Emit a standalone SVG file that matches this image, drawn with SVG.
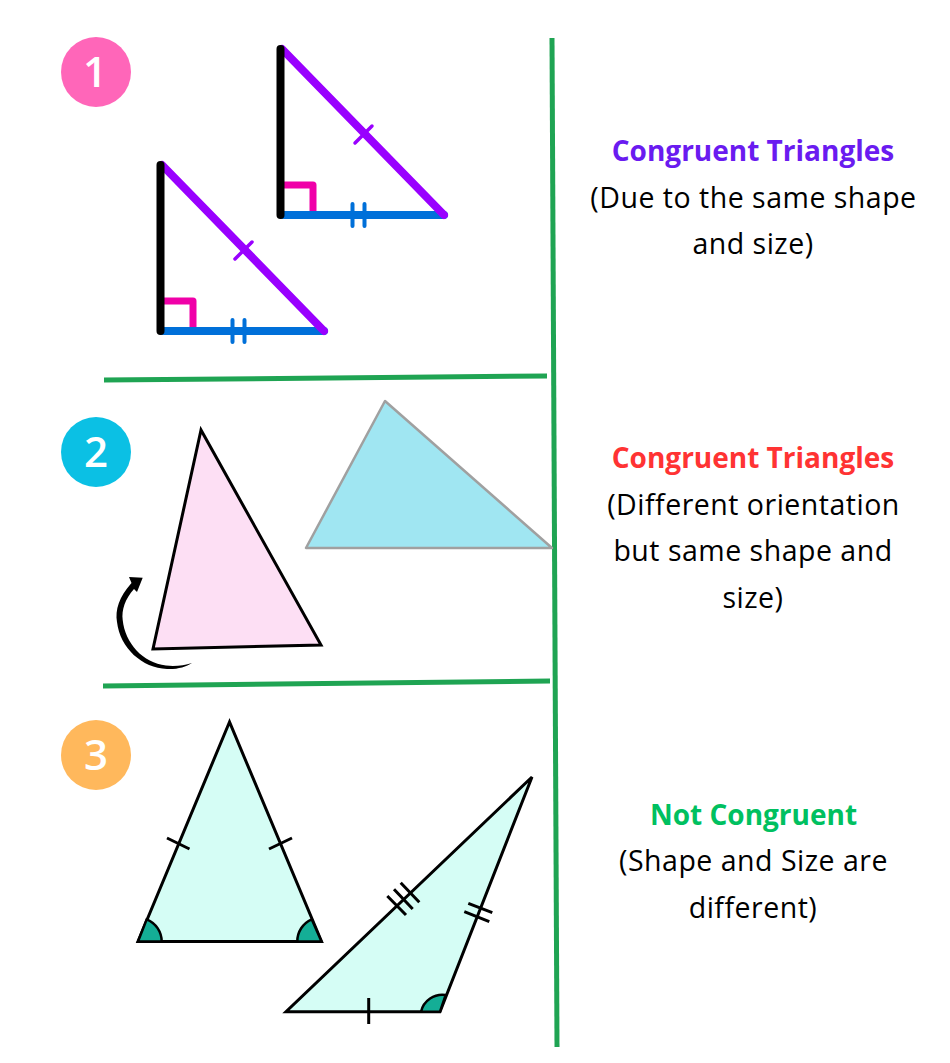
<svg xmlns="http://www.w3.org/2000/svg" width="950" height="1063" viewBox="0 0 950 1063">
<style>
text{font-family:"Open Sans","Liberation Sans",sans-serif;font-size:28.5px;letter-spacing:.5px;text-anchor:middle;fill:#000}
.h{font-weight:700;font-size:28px;letter-spacing:0}
.n{font-family:"Open Sans","Liberation Sans",sans-serif;font-size:42px;font-weight:600;letter-spacing:0;fill:#fff}
.g{stroke:#1fa453;stroke-width:5;fill:none}
.s{fill:none;stroke-linecap:round;stroke-linejoin:round}
.v{stroke:#000;stroke-width:8}
.p{stroke:#9900ff;stroke-width:8}
.b{stroke:#0070d9;stroke-width:8}
.m{stroke:#f000a8;stroke-width:7}
.pt{stroke:#9900ff;stroke-width:3.5}
.bt{stroke:#0070d9;stroke-width:4}
.k{fill:none;stroke:#000;stroke-width:3}
.tri{stroke:#000;stroke-width:3;stroke-linejoin:miter}
.w{fill:#14ae96;stroke:#000;stroke-width:2.5}
</style>
<defs>
<g id="rt">
<path class="s m" d="M284,185H313V212"/>
<path class="s b" d="M282,215H444"/>
<path class="s p" d="M282,49L444,215"/>
<path class="s pt" d="M355,143L372,126"/>
<path class="s bt" d="M352.500,204V226M364.500,204V226"/>
<path class="s v" d="M280.500,49V215"/>
</g>
</defs>
<g id="dividers">
<path class="g" d="M552,38L557,1047"/>
<path class="g" d="M104,380L547,376"/>
<path class="g" d="M103,686L550,681"/>
</g>
<g id="badge-1"><circle cx="96" cy="72" r="35" fill="#ff66b9"/><text class="n" x="95" y="87">1</text></g>
<g id="badge-2"><circle cx="96" cy="452" r="35" fill="#0bc0e4"/><text class="n" x="96" y="467">2</text></g>
<g id="badge-3"><circle cx="96" cy="755" r="35" fill="#ffb85c"/><text class="n" x="96" y="770">3</text></g>
<g id="triangles-1">
<use href="#rt"/>
<use href="#rt" x="-120" y="116"/>
</g>
<g id="triangles-2">
<path d="M385,401L306,548H552Z" fill="#a0e6f2" stroke="#a0a0a0" stroke-width="2.500" stroke-linejoin="round"/>
<path class="tri" d="M201,430L153,649L321,645Z" fill="#fddff4" stroke-width="2.500"/>
<path d="M142.700,577.700L129,577L131.500,583C119,597 115,610 117,622C120,648 142,668 167,669C177,669.500 186,667 192,663C184,665.500 175,666.500 166,665.500C143,663 125,643 122.700,620C121.500,610 125,599 134,589L137,592Z" fill="#000"/>
</g>
<g id="triangles-3">
<path class="tri" d="M229.500,722L138,941.500H321.500Z" fill="#d5fdf5"/>
<path class="w" d="M138,941.500L146.700,919.300A24,24 0 0 1 161.700,941.500Z"/>
<path class="w" d="M321.500,941.500L311.700,919.300A24,24 0 0 0 297.300,941.500Z"/>
<path class="k" d="M167,838L189.500,849M269,849L292,838"/>
<path class="tri" d="M532,777L286,1011.700H440Z" fill="#d5fdf5"/>
<path class="w" d="M440,1011.700L445.700,995A22,22 0 0 0 421,1011.700Z"/>
<path class="k" d="M368.700,998V1024"/>
<path class="k" d="M387.300,896L406,915M394,889.300L412.700,909M400.700,882.700L419.300,902.300"/>
<path class="k" d="M468.300,903.300L492.300,912.700M464.300,911.700L489.300,921.700"/>
</g>
<g id="labels">
<text class="h" x="753" y="161" style="fill:#6a1bf0">Congruent Triangles</text>
<text x="753.500" y="208">(Due to the same shape</text>
<text x="753" y="254">and size)</text>
<text class="h" x="753" y="468" style="fill:#ff3333">Congruent Triangles</text>
<text x="753.500" y="515">(Different orientation</text>
<text x="753" y="561">but same shape and</text>
<text x="753" y="608">size)</text>
<text class="h" x="753.500" y="825" style="fill:#00c060">Not Congruent</text>
<text x="753.500" y="871">(Shape and Size are</text>
<text x="753" y="918">different)</text>
</g>
</svg>
